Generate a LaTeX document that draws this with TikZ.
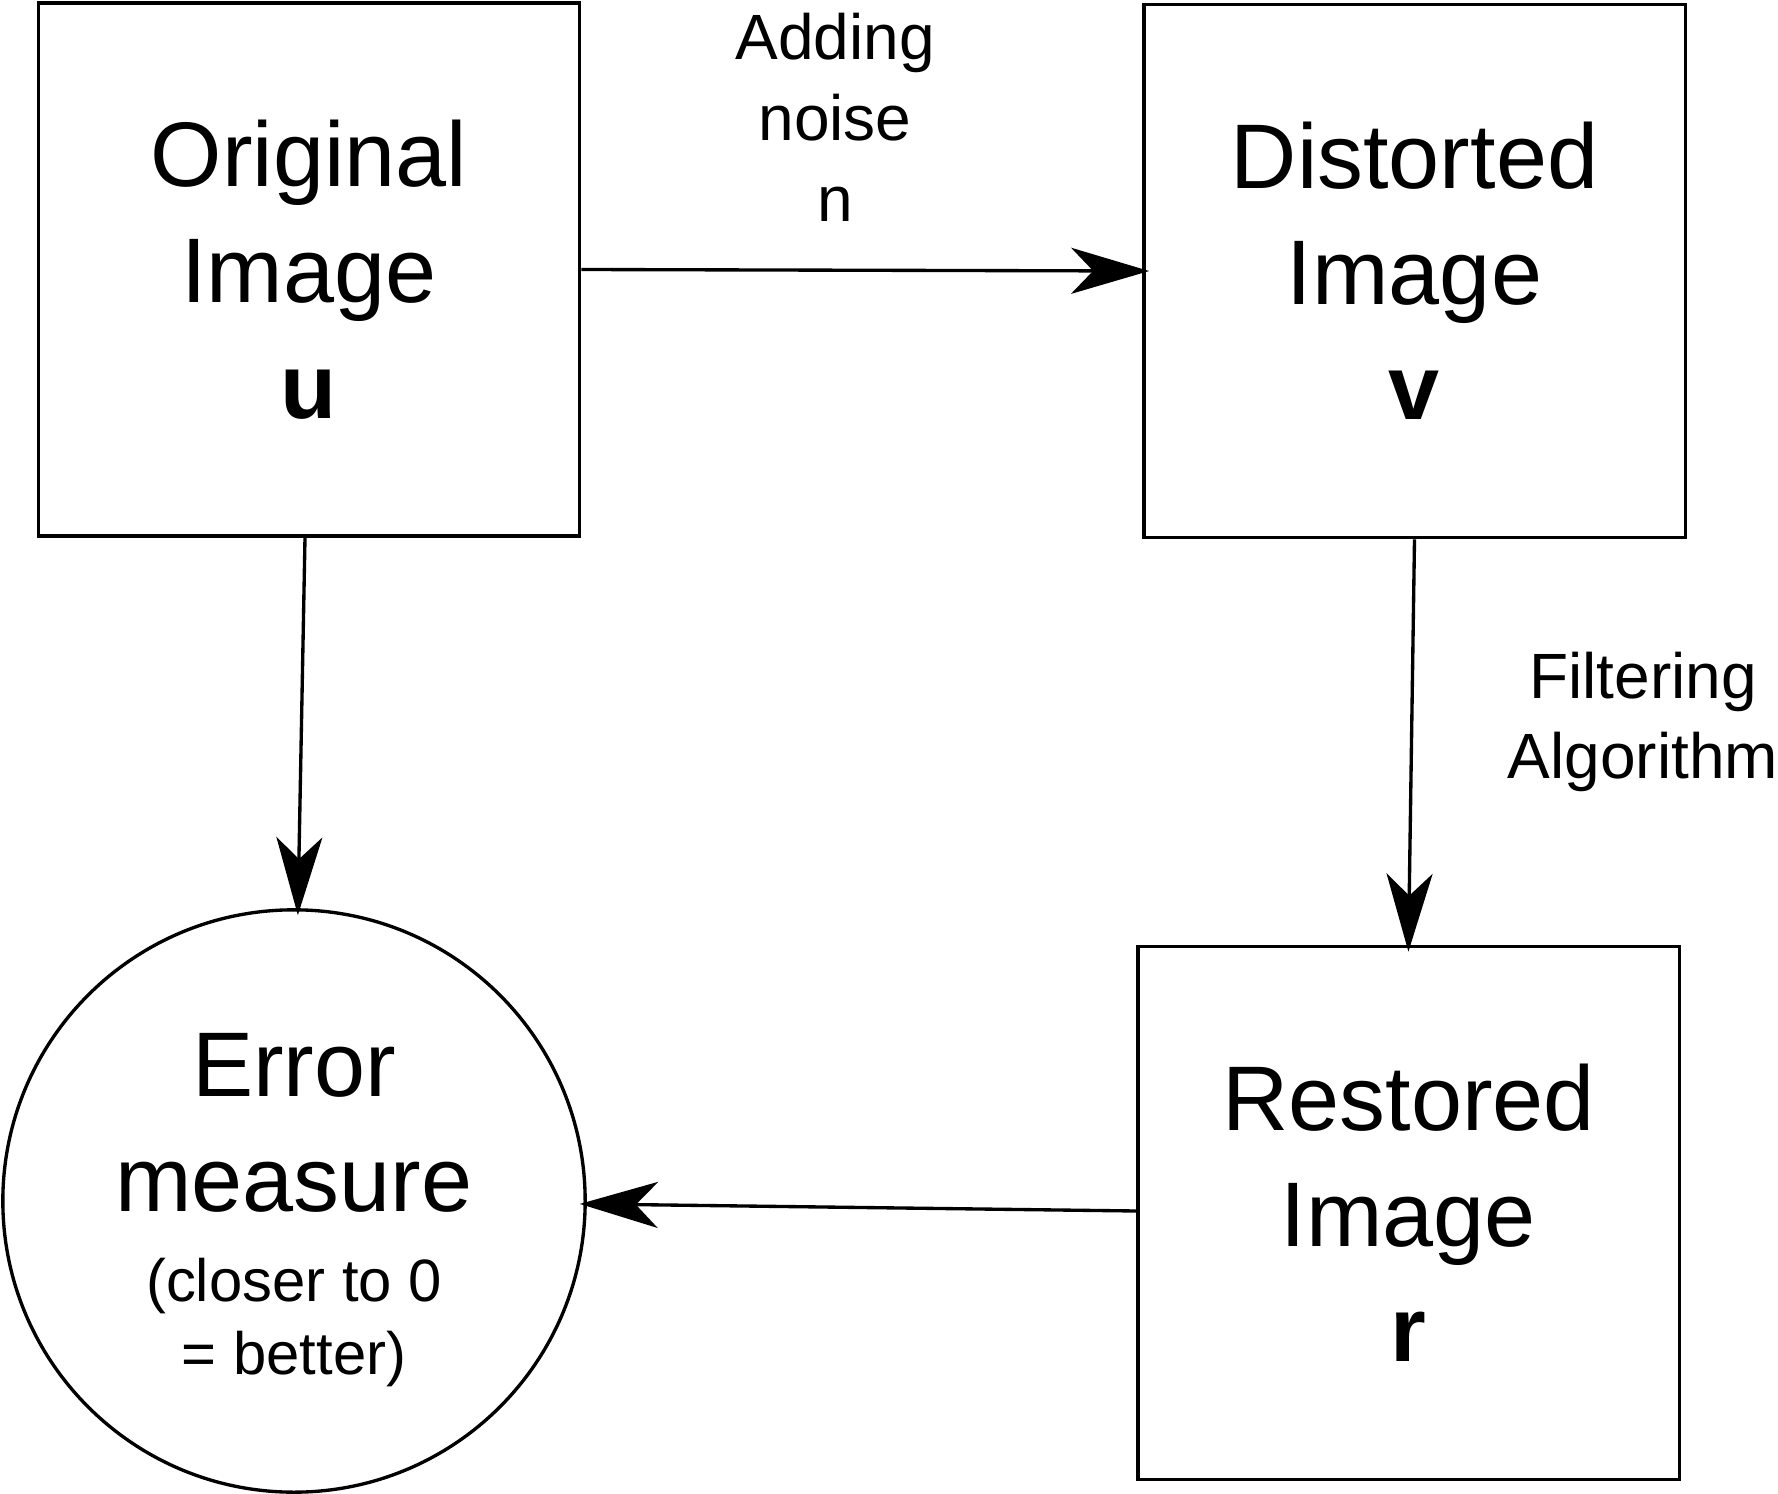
\documentclass[tikz,border=0pt]{standalone}
\usepackage{fontspec}
\setmainfont{Liberation Sans}
\usetikzlibrary{arrows.meta}

\begin{document}
\begin{tikzpicture}[x=0.01cm,y=-0.01cm]

% définition des styles
\tikzstyle{boite}=[rectangle,draw,line width=0.95pt,minimum width=5.41cm,minimum height=5.33cm,align=center,font=\fontsize{26.1}{32.9}\selectfont]
\tikzstyle{rond}=[circle,draw,line width=0.95pt,minimum size=5.82cm,inner sep=0pt,align=center,font=\fontsize{26.1}{32.9}\selectfont]
\tikzstyle{legende}=[align=center,font=\fontsize{18.2}{23}\selectfont]
\tikzstyle{fleche}=[-{Stealth[length=0.78cm,width=0.46cm,inset=0.22cm]},line width=0.95pt,shorten >=-0.07cm]

\useasboundingbox (0,0) rectangle (1778,1494);

% les boites
\node [boite] (orig) at (309,269.5) {Original\\Image\\\textbf{u}};
\node [boite] (dist) at (1414.5,271) {Distorted\\Image\\\textbf{v}};
\node [boite] (rest) at (1408.5,1213) {Restored\\Image\\\textbf{r}};
\node [rond] (err) at (294,1201) {\rule{0pt}{23pt}Error\\measure\\[-7.4pt]{\fontsize{17}{20.7}\selectfont (closer to 0}\\[-12.2pt]{\fontsize{17}{20.7}\selectfont = better)}};

% les legendes
\node [legende] (bruit) at (835,117.5) {Adding\\noise\\n};
\node [legende] (filtre) at (1643,722) {Filtering\\Algorithm};

% les fleches
\draw[fleche] (orig.east) -- (dist.west);
\draw[fleche] ([xshift=-0.04cm]orig.south) -- ([xshift=0.04cm]err.north);
\draw[fleche] (dist.south) -- (rest.north);
\draw[fleche] ([yshift=0.02cm]rest.west) -- ([yshift=-0.03cm]err.east);

\end{tikzpicture}
\end{document}
